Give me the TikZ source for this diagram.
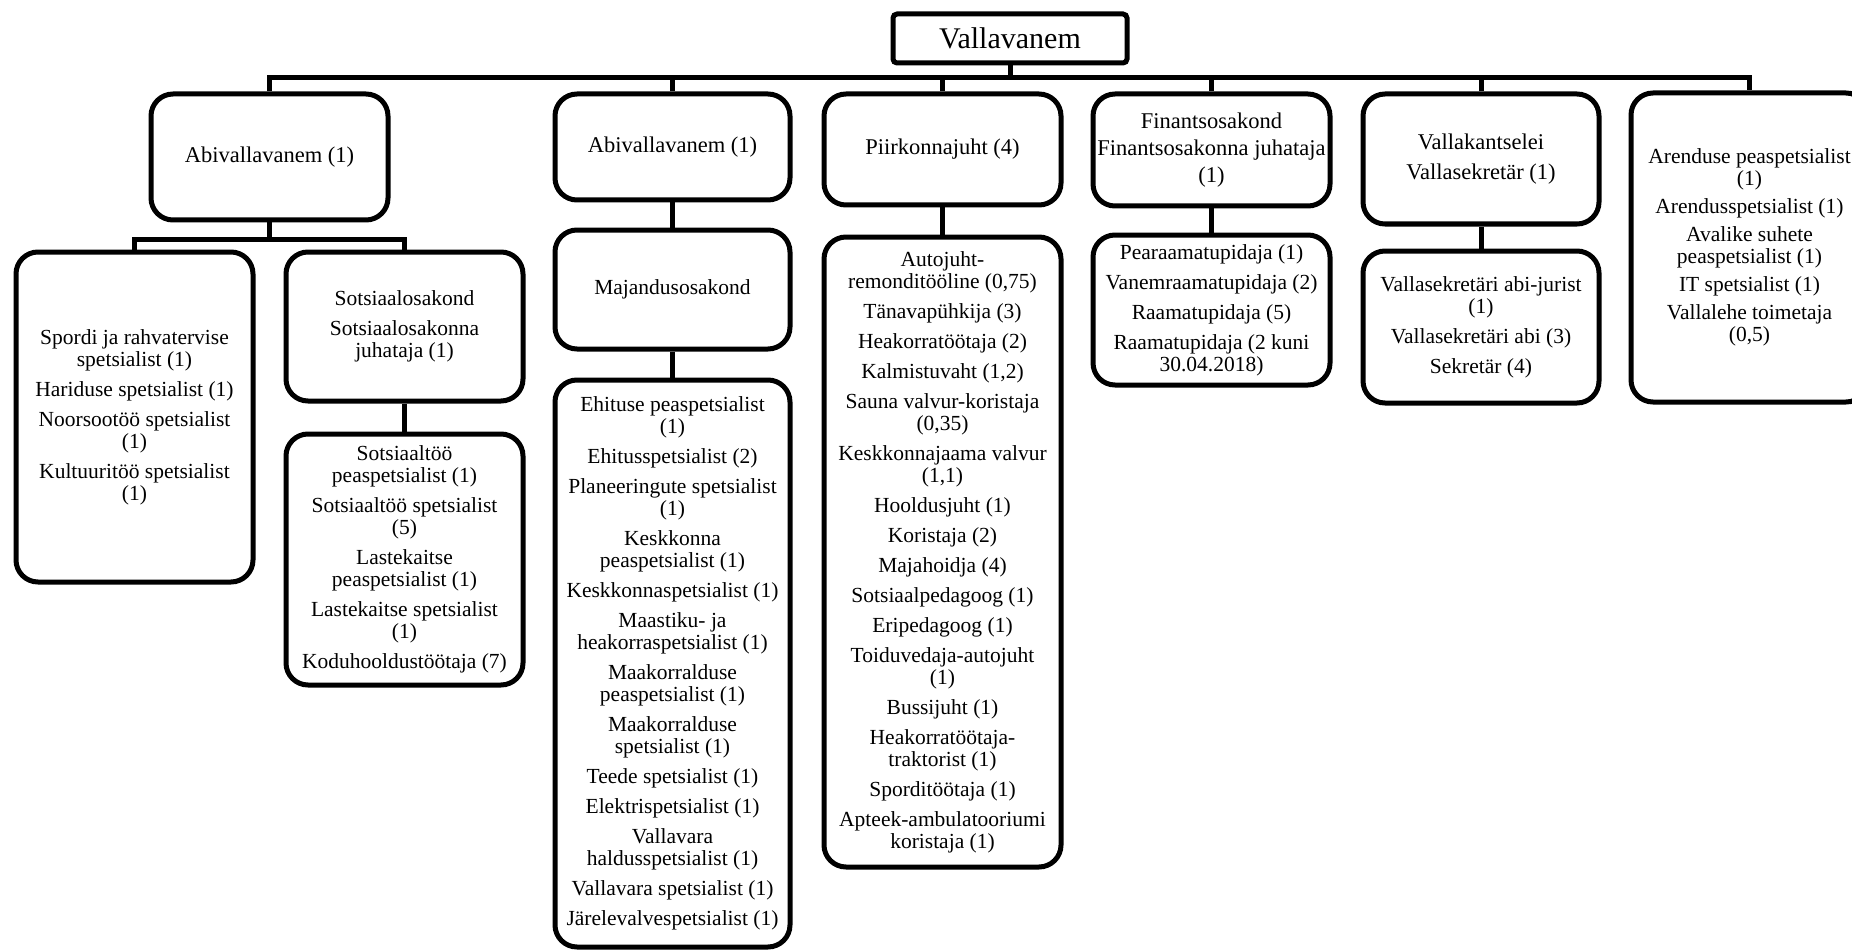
\documentclass[tikz,border=0pt]{standalone}
\usepackage{fontspec}
\setmainfont{Liberation Serif}
\begin{document}
\begin{tikzpicture}[x=1pt, y=-1pt,
    box/.style={rectangle, draw, line width=5pt, rounded corners=22pt, align=center, inner sep=2pt, minimum width=237pt},
    head/.style={box, font=\fontsize{22.5}{27}\selectfont},
    list/.style={box, font=\fontsize{21.5}{22}\selectfont},
    link/.style={line width=5pt}
]
\useasboundingbox (0,0) rectangle (1852,952);

\node[box, rounded corners=4pt, minimum width=234pt, minimum height=49pt, font=\fontsize{30}{32}\selectfont] (vv) at (1010,38.5) {Vallavanem};

\coordinate (bus) at (0,78);
\coordinate (subbus) at (0,239);

\node[head, minimum height=126pt] (a1) at (269.5,157) {Abivallavanem (1)};
\node[head, minimum width=235pt, minimum height=106pt] (a2) at (672.5,147) {Abivallavanem (1)};
\node[head, minimum height=111pt] (pj) at (942.5,149.5) {Piirkonnajuht (4)};
\node[head, minimum height=112pt] (fo) at (1211.5,150) {Finantsosakond\\Finantsosakonna juhataja\\(1)};
\node[head, minimum width=236pt, minimum height=130pt] (vk) at (1481,159) {Vallakantselei\\[3pt]Vallasekretär (1)};
\node[list, minimum height=309pt] (ar) at (1749.5,247.5) {
    Arenduse peaspetsialist\\(1)\\[6pt]
    Arendusspetsialist (1)\\[6pt]
    Avalike suhete\\peaspetsialist (1)\\[6pt]
    IT spetsialist (1)\\[6pt]
    Vallalehe toimetaja\\(0,5)
};

\node[list, minimum height=330pt] (sp) at (134.5,417) {
    Spordi ja rahvatervise\\spetsialist (1)\\[8pt]
    Hariduse spetsialist (1)\\[8pt]
    Noorsootöö spetsialist\\(1)\\[8pt]
    Kultuuritöö spetsialist\\(1)
};
\node[list, minimum height=149pt] (so) at (404.5,326.5) {Sotsiaalosakond\\[8pt]Sotsiaalosakonna\\juhataja (1)};
\node[list, minimum height=251pt] (sl) at (404.5,559.5) {
    Sotsiaaltöö\\peaspetsialist (1)\\[8pt]
    Sotsiaaltöö spetsialist\\(5)\\[8pt]
    Lastekaitse\\peaspetsialist (1)\\[8pt]
    Lastekaitse spetsialist\\(1)\\[8pt]
    Koduhooldustöötaja (7)
};

\node[list, minimum width=235pt, minimum height=119pt] (mj) at (672.5,289.5) {Majandusosakond};
\node[list, minimum width=235pt, minimum height=567pt] (ml) at (672.5,663.5) {
    Ehituse peaspetsialist\\(1)\\[8pt]
    Ehitusspetsialist (2)\\[8pt]
    Planeeringute spetsialist\\(1)\\[8pt]
    Keskkonna\\peaspetsialist (1)\\[8pt]
    Keskkonnaspetsialist (1)\\[8pt]
    Maastiku- ja\\heakorraspetsialist (1)\\[8pt]
    Maakorralduse\\peaspetsialist (1)\\[8pt]
    Maakorralduse\\spetsialist (1)\\[8pt]
    Teede spetsialist (1)\\[8pt]
    Elektrispetsialist (1)\\[8pt]
    Vallavara\\haldusspetsialist (1)\\[8pt]
    Vallavara spetsialist (1)\\[8pt]
    Järelevalvespetsialist (1)
};

\node[list, minimum height=630pt] (pl) at (942.5,552) {
    Autojuht-\\remonditööline (0,75)\\[8pt]
    Tänavapühkija (3)\\[8pt]
    Heakorratöötaja (2)\\[8pt]
    Kalmistuvaht (1,2)\\[8pt]
    Sauna valvur-koristaja\\(0,35)\\[8pt]
    Keskkonnajaama valvur\\(1,1)\\[8pt]
    Hooldusjuht (1)\\[8pt]
    Koristaja (2)\\[8pt]
    Majahoidja (4)\\[8pt]
    Sotsiaalpedagoog (1)\\[8pt]
    Eripedagoog (1)\\[8pt]
    Toiduvedaja-autojuht\\(1)\\[8pt]
    Bussijuht (1)\\[8pt]
    Heakorratöötaja-\\traktorist (1)\\[8pt]
    Sporditöötaja (1)\\[8pt]
    Apteek-ambulatooriumi\\koristaja (1)
};

\node[list, minimum height=150pt] (fl) at (1211.5,310) {
    Pearaamatupidaja (1)\\[8pt]
    Vanemraamatupidaja (2)\\[8pt]
    Raamatupidaja (5)\\[8pt]
    Raamatupidaja (2 kuni\\30.04.2018)
};
\node[list, minimum width=236pt, minimum height=152pt] (vl) at (1481,327) {
    Vallasekretäri abi-jurist\\(1)\\[8pt]
    Vallasekretäri abi (3)\\[8pt]
    Sekretär (4)
};

\draw[link] (vv.south) -- (vv.south |- bus);
\draw[link] (a1.north) -- (a1.north |- bus) -| (ar.north);
\foreach \n in {a2,pj,fo,vk} {
    \draw[link] (\n.north) -- (\n.north |- bus);
}
\draw[link] (a1.south) -- (a1.south |- subbus);
\draw[link] (sp.north) -- (sp.north |- subbus) -| (so.north);
\draw[link] (so) -- (sl);
\draw[link] (a2) -- (mj);
\draw[link] (mj) -- (ml);
\draw[link] (pj) -- (pl);
\draw[link] (fo) -- (fl);
\draw[link] (vk) -- (vl);

\end{tikzpicture}
\end{document}
